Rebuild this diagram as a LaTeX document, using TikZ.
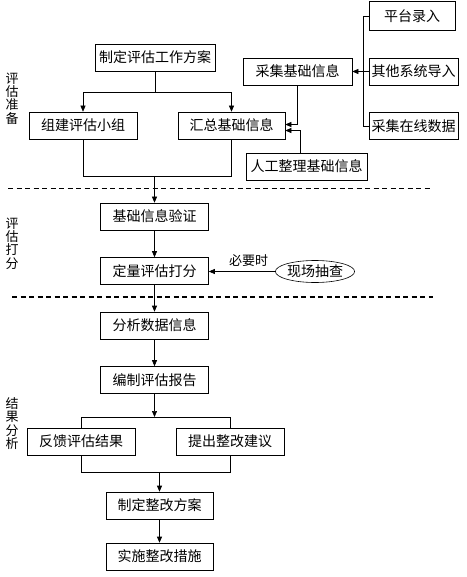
\documentclass[tikz,border=0pt]{standalone}
\usepackage{fontspec}
\newfontfamily\cjk{Noto Sans CJK SC}
\usetikzlibrary{calc,arrows.meta,shapes.geometric}

\tikzset{
  stepbox/.style={draw, line width=0.6pt, minimum height=27pt, inner sep=0pt,
    font=\cjk\fontsize{14}{16}\selectfont},
  phase/.style={align=center, inner sep=0pt, font=\cjk\fontsize{13}{13.4}\selectfont},
  link/.style={line width=0.6pt},
  divider/.style={line width=1.1pt, dash pattern=on 5pt off 3.5pt}
}

\begin{document}
\begin{tikzpicture}[>={Triangle[length=6pt,width=5pt]}, x=1pt, y=-1pt]
  \useasboundingbox (0,0) rectangle (466,577);
  % phase labels on the left
  \node[phase] (prepL)   at (12,98.5)  {评\\估\\准\\备};
  \node[phase] (scoreL)  at (12,243.5) {评\\估\\打\\分};
  \node[phase] (resultL) at (12,423.5) {结\\果\\分\\析};
  % phase dividers
  \draw[divider] (8,188.5) -- (430,188.5);
  \draw[divider] (12,297) -- (433,297);

  % --- preparation ---
  \node[stepbox, minimum width=120pt] (plan)    at (155,57.5)  {制定评估工作方案};
  \node[stepbox, minimum width=109pt] (collect) at (297.5,71.5) {采集基础信息};
  \node[stepbox, minimum width=86pt, minimum height=29pt] (entry) at (412,16) {平台录入};
  \node[stepbox, minimum width=89pt]  (import)  at (413.5,71.5) {其他系统导入};
  \node[stepbox, minimum width=89pt]  (online)  at (413.5,126)  {采集在线数据};
  \node[stepbox, minimum width=108pt] (team)    at (83,125.5)   {组建评估小组};
  \node[stepbox, minimum width=107pt] (gather)  at (231.5,125.5) {汇总基础信息};
  \node[stepbox, minimum width=121pt] (manual)  at (306.5,166.5) {人工整理基础信息};
  % plan splits into team and gather
  \coordinate (split1) at (155,92);
  \draw[link] (plan.south) -- (split1);
  \draw[link,->] (split1) -| (team.north);
  \draw[link,->] (split1) -| (gather.north);
  % sources feed collect
  \draw[link] (entry.west) -- ++(-5,0) |- (online.west);
  \draw[link,->] (import.west) -- (collect.east);
  % collect and manual feed gather
  \draw[link,->] (collect.south) |- ([yshift=1pt]gather.east);
  \draw[link,->] ([xshift=-6pt]manual.north) |- ([yshift=-5pt]gather.east);
  % team and gather join
  \coordinate (join1) at (154.5,176);
  \draw[link] (team.south) -- (team.south |- join1) -- (gather.south |- join1) -- (gather.south);

  % --- scoring ---
  \node[stepbox, minimum width=108pt] (verify) at (154.5,216.5) {基础信息验证};
  \node[stepbox, minimum width=108pt] (score)  at (154.5,271)   {定量评估打分};
  \node[draw, ellipse, line width=0.6pt, minimum width=77pt, minimum height=22pt, inner sep=0pt,
    font=\cjk\fontsize{14}{16}\selectfont] (check) at (315,271.5) {现场抽查};
  \draw[link,->] (join1) -- (verify.north);
  \draw[link,->] (verify) -- (score);
  \draw[link,->] (check.west) -- node[pos=0.4, above=1pt, font=\cjk\fontsize{13}{15}\selectfont] {必要时}
    (check.west -| score.east);

  % --- results ---
  \node[stepbox, minimum width=108pt] (analyse)  at (154.5,325.5) {分析数据信息};
  \node[stepbox, minimum width=108pt] (report)   at (154.5,380)   {编制评估报告};
  \node[stepbox, minimum width=108pt] (feedback) at (81,441.5)    {反馈评估结果};
  \node[stepbox, minimum width=108pt] (advice)   at (230,441.5)   {提出整改建议};
  \node[stepbox, minimum width=107pt] (fixplan)  at (159.5,505.5) {制定整改方案};
  \node[stepbox, minimum width=107pt] (fixdo)    at (159.5,556.5) {实施整改措施};
  \draw[link,->] (score) -- (analyse);
  \draw[link,->] (analyse) -- (report);
  % report splits into feedback and advice
  \coordinate (split2) at (154.5,417);
  \draw[link,->] (report.south) -- (split2);
  \draw[link] (feedback.north) -- (feedback.north |- split2) -- (advice.north |- split2) -- (advice.north);
  % feedback and advice join
  \coordinate (join2) at (159.5,472);
  \draw[link] (feedback.south) -- (feedback.south |- join2) -- (advice.south |- join2) -- (advice.south);
  \draw[link,->] (join2) -- (fixplan.north);
  \draw[link,->] (fixplan) -- (fixdo);
\end{tikzpicture}
\end{document}
